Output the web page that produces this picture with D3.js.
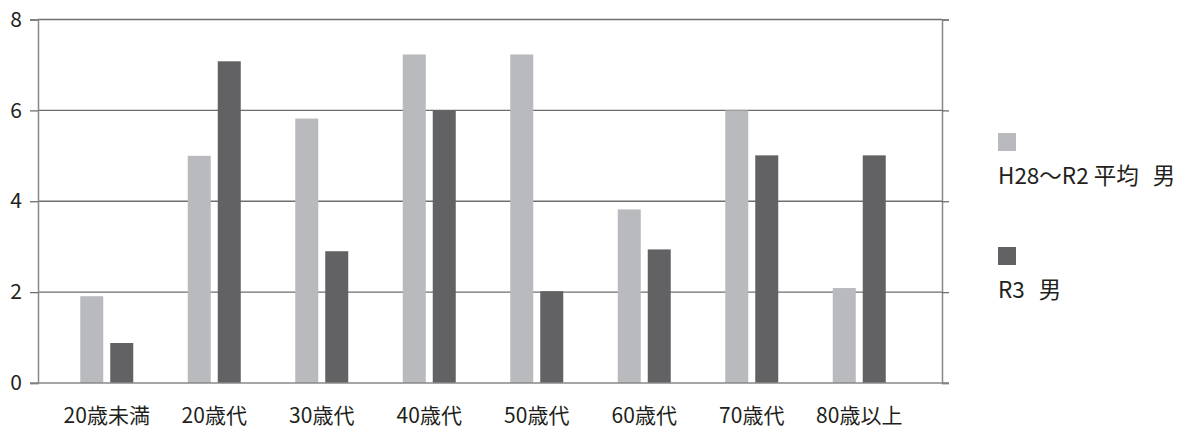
<!DOCTYPE html>
<html>
<head>
<meta charset="utf-8">
<script src="https://cdn.jsdelivr.net/npm/d3@7"></script>
<style>
  body { margin: 0; background: #fff; }
  svg text { font-family: "Noto Sans CJK JP", "Noto Sans", sans-serif; fill: #231f20; }
</style>
</head>
<body>
<svg id="chart" width="1189" height="429"></svg>
<script>
const categories = ['20歳未満', '20歳代', '30歳代', '40歳代', '50歳代', '60歳代', '70歳代', '80歳以上'];
const seriesNames = ['H28～R2 平均', 'R3'];
const seriesSuffix = '男';
const avgValues = [1.91, 5.0, 5.82, 7.23, 7.23, 3.82, 6.0, 2.09];
const r3Values = [0.88, 7.08, 2.9, 6.0, 2.02, 2.94, 5.01, 5.01];
const yTicks = [0, 2, 4, 6, 8];
const colors = ['#b9babd', '#626264'];

const svg = d3.select('svg#chart');
const plot = { left: 38, right: 942, top: 19.5, bottom: 383 };

const yScale = d3.scaleLinear()
    .domain([0, 8])
    .range([plot.bottom, plot.top]);

// bars are not spread evenly over the whole plot width in the original
const xScale = d3.scaleBand()
    .domain(categories)
    .range([53, 913]);

const subScale = d3.scaleBand()
    .domain(seriesNames)
    .range([-26.5, 26.5])
    .paddingInner(0.233);

// gridlines
svg.append('g')
    .selectAll('line')
    .data(yTicks.filter(d => d > 0))
    .enter()
    .append('line')
    .attr('x1', plot.left)
    .attr('x2', plot.right)
    .attr('y1', d => yScale(d))
    .attr('y2', d => yScale(d))
    .attr('stroke', '#6e6e6e')
    .attr('stroke-width', 1.3);

// bars
const rows = categories.map((c, i) => ({ cat: c, values: [avgValues[i], r3Values[i]] }));
svg.append('g')
    .selectAll('g')
    .data(rows)
    .enter()
    .append('g')
    .attr('transform', d => `translate(${xScale(d.cat) + xScale.bandwidth() / 2},0)`)
    .selectAll('rect')
    .data(d => d.values.map((v, j) => ({ key: seriesNames[j], value: v, idx: j })))
    .enter()
    .append('rect')
    .attr('x', d => subScale(d.key))
    .attr('width', subScale.bandwidth())
    .attr('y', d => yScale(d.value))
    .attr('height', d => yScale(0) - yScale(d.value))
    .attr('fill', d => colors[d.idx]);

// left axis
const yAxisL = svg.append('g')
    .attr('transform', `translate(${plot.left},0)`)
    .call(d3.axisLeft(yScale).tickValues(yTicks).tickSize(8).tickPadding(8).tickFormat(d3.format('d')));
yAxisL.selectAll('line').attr('stroke', '#6e6e6e').attr('stroke-width', 1.3);
yAxisL.select('.domain').attr('stroke', '#888').attr('stroke-width', 1.5);
yAxisL.selectAll('text').style('font-size', '21px').attr('fill', '#231f20');

// right axis
const yAxisR = svg.append('g')
    .attr('transform', `translate(${plot.right},0)`)
    .call(d3.axisRight(yScale).tickValues(yTicks).tickSize(7).tickFormat(''));
yAxisR.selectAll('line').attr('stroke', '#6e6e6e').attr('stroke-width', 1.3);
yAxisR.select('.domain').attr('stroke', '#888').attr('stroke-width', 1.5);

// bottom line + category labels
const xAxis = svg.append('g')
    .attr('transform', `translate(0,${plot.bottom})`)
    .call(d3.axisBottom(xScale).tickSize(0).tickPadding(25));
xAxis.select('.domain').remove();
xAxis.selectAll('text').style('font-size', '21px').attr('fill', '#231f20');
svg.append('line')
    .attr('x1', plot.left - 8).attr('x2', plot.right + 7)
    .attr('y1', plot.bottom).attr('y2', plot.bottom)
    .attr('stroke', '#888').attr('stroke-width', 1.5);

// legend
const legend = svg.append('g')
    .selectAll('g')
    .data(seriesNames)
    .enter()
    .append('g')
    .attr('transform', (d, i) => `translate(998,${133 + i * 114})`);

legend.append('rect')
    .attr('width', 18)
    .attr('height', 18)
    .attr('fill', (d, i) => colors[i]);

const legendText = legend.append('text')
    .attr('x', 0)
    .attr('y', 51)
    .style('font-size', '22.5px')
    .text(d => d);
legendText.append('tspan')
    .attr('dx', 14)
    .text(seriesSuffix);
</script>
</body>
</html>
